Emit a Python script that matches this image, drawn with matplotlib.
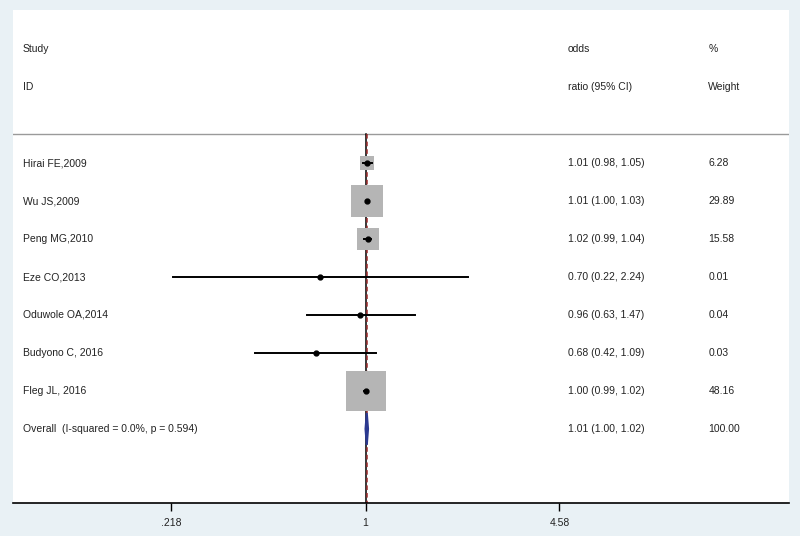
import numpy as np
from matplotlib import pyplot as plt
from matplotlib import patches
from matplotlib import transforms

studies = ["Hirai FE,2009", "Wu JS,2009", "Peng MG,2010", "Eze CO,2013",
           "Oduwole OA,2014", "Budyono C, 2016", "Fleg JL, 2016"]
odds = [1.01, 1.01, 1.02, 0.70, 0.96, 0.68, 1.00]
ci_low = [0.98, 1.00, 0.99, 0.22, 0.63, 0.42, 0.99]
ci_high = [1.05, 1.03, 1.04, 2.24, 1.47, 1.09, 1.02]
weights = [6.28, 29.89, 15.58, 0.01, 0.04, 0.03, 48.16]

overall_label = "Overall  (I-squared = 0.0%, p = 0.594)"
overall_or = 1.01
overall_low = 1.00
overall_high = 1.02
overall_weight = 100.00

tick_values = [0.218, 1, 4.58]
tick_labels = [".218", "1", "4.58"]

BG = "#e9f1f5"
TXT = "#222222"
FS = 7.5

plt.rcParams['font.family'] = ['Liberation Sans', 'DejaVu Sans']

fig = plt.figure(figsize=(8, 5.36), dpi=100, facecolor=BG)
ax = fig.add_axes([13 / 800, 33 / 536, 776 / 800, 493 / 536])
ax.set_facecolor("white")

# pixel scale of the reference: 127.4 px per log unit, 38 px per row
px_x = 1 / 127.4
px_y = 1 / 38.0
ax.set_xlim(-2.767, 3.324)
ax.set_ylim(8.95, -4.03)

for s in ["top", "left", "right"]:
    ax.spines[s].set_visible(False)
ax.spines["bottom"].set_linewidth(1.2)
ax.set_yticks([])
ax.set_xticks(np.log(tick_values))
ax.set_xticklabels(tick_labels, fontsize=FS, color=TXT)
ax.tick_params(axis="x", length=6, width=1, pad=5)

tr = transforms.blended_transform_factory(ax.transAxes, ax.transData)
col_name = 0.0129
col_or = 0.715
col_w = 0.896

# headers
ax.text(col_name, -3, "Study", transform=tr, fontsize=FS, color=TXT, va="center")
ax.text(col_name, -2, "ID", transform=tr, fontsize=FS, color=TXT, va="center")
ax.text(col_or, -3, "odds", transform=tr, fontsize=FS, color=TXT, va="center")
ax.text(col_or, -2, "ratio (95% CI)", transform=tr, fontsize=FS, color=TXT, va="center")
ax.text(col_w, -3, "%", transform=tr, fontsize=FS, color=TXT, va="center")
ax.text(col_w, -2, "Weight", transform=tr, fontsize=FS, color=TXT, va="center")
ax.axhline(-0.76, color="#9a9a9a", lw=1)

# reference lines
ax.plot([0, 0], [-0.76, 8.95], color="black", lw=1.1, zorder=2)
ax.plot([np.log(overall_or)] * 2, [-0.76, 8.95], color="#9b2a2a", lw=1.1,
        ls=(0, (3, 2)), zorder=2)

for i, name in enumerate(studies):
    lo, hi, est = np.log(ci_low[i]), np.log(ci_high[i]), np.log(odds[i])
    side = 5.76 * np.sqrt(weights[i])
    if side > 3:
        ax.add_patch(patches.Rectangle((est - side * px_x / 2, i - side * px_y / 2),
                                       side * px_x, side * px_y,
                                       facecolor="#b5b5b5", edgecolor="none", zorder=3))
    ax.plot([lo, hi], [i, i], color="black", lw=1.4, zorder=4)
    ax.plot(est, i, "o", color="black", ms=3.5, zorder=5)
    ax.text(col_name, i, name, transform=tr, fontsize=FS, color=TXT, va="center")
    ax.text(col_or, i, f"{odds[i]:.2f} ({ci_low[i]:.2f}, {ci_high[i]:.2f})",
            transform=tr, fontsize=FS, color=TXT, va="center")
    ax.text(col_w, i, f"{weights[i]:.2f}", transform=tr, fontsize=FS,
            color=TXT, va="center")

# overall diamond
k = len(studies)
lo, hi, est = np.log(overall_low), np.log(overall_high), np.log(overall_or)
h = 16 * px_y
ax.add_patch(patches.Polygon([[lo, k], [est, k - h], [hi, k], [est, k + h]],
                             closed=True, facecolor="#2b3990", edgecolor="#2b3990",
                             lw=1.5, zorder=6))
ax.text(col_name, k, overall_label, transform=tr, fontsize=FS, color=TXT, va="center")
ax.text(col_or, k, f"{overall_or:.2f} ({overall_low:.2f}, {overall_high:.2f})",
        transform=tr, fontsize=FS, color=TXT, va="center")
ax.text(col_w, k, f"{overall_weight:.2f}", transform=tr, fontsize=FS,
        color=TXT, va="center")

fig.savefig("out.png", dpi=100, facecolor=BG)
